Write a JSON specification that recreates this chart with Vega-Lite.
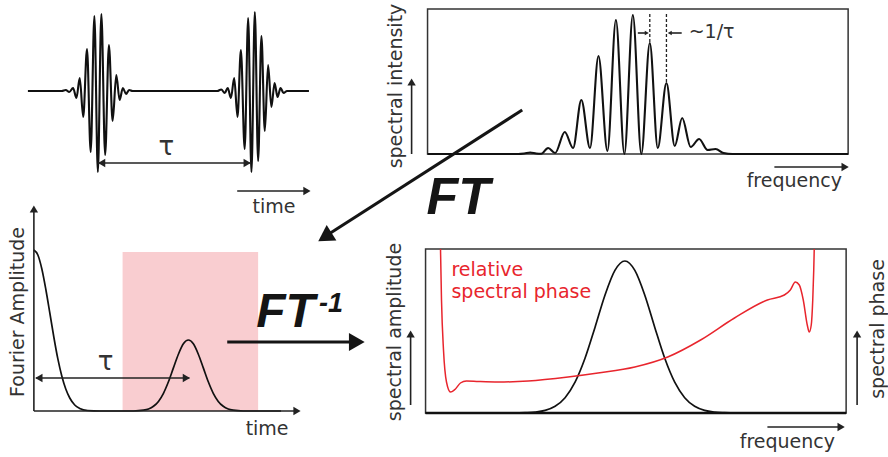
{
  "$schema": "https://vega.github.io/schema/vega-lite/v6.json",
  "width": 888,
  "height": 457,
  "autosize": {"type": "fit", "contains": "padding"},
  "padding": 0,
  "background": "white",
  "config": {"view": {"stroke": null}},
  "datasets": {
    "curves": [
      {"series": "wave", "x": 28, "y": 91}, {"series": "wave", "x": 62, "y": 91}, {"series": "wave", "x": 66, "y": 90}, {"series": "wave", "x": 69.5, "y": 92},
      {"series": "wave", "x": 73.3, "y": 88}, {"series": "wave", "x": 76.7, "y": 98}, {"series": "wave", "x": 80, "y": 78}, {"series": "wave", "x": 83.5, "y": 117},
      {"series": "wave", "x": 87.3, "y": 49}, {"series": "wave", "x": 91, "y": 152}, {"series": "wave", "x": 94.7, "y": 16}, {"series": "wave", "x": 98.2, "y": 172},
      {"series": "wave", "x": 101.7, "y": 14}, {"series": "wave", "x": 105.5, "y": 155}, {"series": "wave", "x": 109.3, "y": 45}, {"series": "wave", "x": 113, "y": 121},
      {"series": "wave", "x": 116.7, "y": 75}, {"series": "wave", "x": 120, "y": 100}, {"series": "wave", "x": 123.3, "y": 88}, {"series": "wave", "x": 126.5, "y": 94},
      {"series": "wave", "x": 129.5, "y": 90}, {"series": "wave", "x": 133, "y": 91},
      {"series": "wave", "x": 218, "y": 91}, {"series": "wave", "x": 222, "y": 89.5}, {"series": "wave", "x": 225.5, "y": 93}, {"series": "wave", "x": 228.5, "y": 88},
      {"series": "wave", "x": 231.7, "y": 98}, {"series": "wave", "x": 235, "y": 78}, {"series": "wave", "x": 238.3, "y": 117}, {"series": "wave", "x": 241.7, "y": 50},
      {"series": "wave", "x": 245.5, "y": 149}, {"series": "wave", "x": 249, "y": 18}, {"series": "wave", "x": 252.3, "y": 172}, {"series": "wave", "x": 255.7, "y": 12},
      {"series": "wave", "x": 259, "y": 161}, {"series": "wave", "x": 262.3, "y": 36}, {"series": "wave", "x": 265.7, "y": 131}, {"series": "wave", "x": 269, "y": 65},
      {"series": "wave", "x": 272.3, "y": 107}, {"series": "wave", "x": 275.5, "y": 83}, {"series": "wave", "x": 278.5, "y": 97}, {"series": "wave", "x": 281.5, "y": 88},
      {"series": "wave", "x": 284.5, "y": 93}, {"series": "wave", "x": 288, "y": 91}, {"series": "wave", "x": 310, "y": 91},

      {"series": "spectrum", "x": 429, "y": 154}, {"series": "spectrum", "x": 520, "y": 154}, {"series": "spectrum", "x": 526, "y": 153.5}, {"series": "spectrum", "x": 532, "y": 152.5},
      {"series": "spectrum", "x": 538, "y": 153.5}, {"series": "spectrum", "x": 543, "y": 153.8}, {"series": "spectrum", "x": 550, "y": 148}, {"series": "spectrum", "x": 557, "y": 153},
      {"series": "spectrum", "x": 566.7, "y": 132}, {"series": "spectrum", "x": 575, "y": 148}, {"series": "spectrum", "x": 583.3, "y": 100}, {"series": "spectrum", "x": 592, "y": 148},
      {"series": "spectrum", "x": 600.5, "y": 56}, {"series": "spectrum", "x": 609.5, "y": 151}, {"series": "spectrum", "x": 618, "y": 20}, {"series": "spectrum", "x": 626.5, "y": 154},
      {"series": "spectrum", "x": 635, "y": 15}, {"series": "spectrum", "x": 643.5, "y": 154}, {"series": "spectrum", "x": 652, "y": 43}, {"series": "spectrum", "x": 660, "y": 148},
      {"series": "spectrum", "x": 668.7, "y": 83}, {"series": "spectrum", "x": 677, "y": 146}, {"series": "spectrum", "x": 684.5, "y": 118}, {"series": "spectrum", "x": 693, "y": 147},
      {"series": "spectrum", "x": 701.5, "y": 139}, {"series": "spectrum", "x": 710, "y": 150}, {"series": "spectrum", "x": 718, "y": 149}, {"series": "spectrum", "x": 726, "y": 153},
      {"series": "spectrum", "x": 735, "y": 154}, {"series": "spectrum", "x": 851, "y": 154},

      {"series": "fourier", "x": 34, "y": 250}, {"series": "fourier", "x": 38, "y": 255}, {"series": "fourier", "x": 42, "y": 269}, {"series": "fourier", "x": 46, "y": 289.5},
      {"series": "fourier", "x": 50, "y": 313}, {"series": "fourier", "x": 54, "y": 337}, {"series": "fourier", "x": 58, "y": 358.7}, {"series": "fourier", "x": 62, "y": 376},
      {"series": "fourier", "x": 66, "y": 389}, {"series": "fourier", "x": 70, "y": 398}, {"series": "fourier", "x": 75, "y": 405}, {"series": "fourier", "x": 80, "y": 408.4},
      {"series": "fourier", "x": 88, "y": 410.5}, {"series": "fourier", "x": 100, "y": 411}, {"series": "fourier", "x": 134, "y": 411}, {"series": "fourier", "x": 144, "y": 410.2},
      {"series": "fourier", "x": 149, "y": 409}, {"series": "fourier", "x": 154, "y": 406.3}, {"series": "fourier", "x": 159, "y": 401.4}, {"series": "fourier", "x": 164, "y": 393.3},
      {"series": "fourier", "x": 169, "y": 381.8}, {"series": "fourier", "x": 174, "y": 367.9}, {"series": "fourier", "x": 179, "y": 354.2}, {"series": "fourier", "x": 184, "y": 343.8},
      {"series": "fourier", "x": 189, "y": 340}, {"series": "fourier", "x": 194, "y": 343.8}, {"series": "fourier", "x": 199, "y": 354.2}, {"series": "fourier", "x": 204, "y": 367.9},
      {"series": "fourier", "x": 209, "y": 381.8}, {"series": "fourier", "x": 214, "y": 393.3}, {"series": "fourier", "x": 219, "y": 401.4}, {"series": "fourier", "x": 224, "y": 406.3},
      {"series": "fourier", "x": 229, "y": 409}, {"series": "fourier", "x": 234, "y": 410.2}, {"series": "fourier", "x": 244, "y": 411}, {"series": "fourier", "x": 282, "y": 411},

      {"series": "amplitude", "x": 427, "y": 413}, {"series": "amplitude", "x": 517, "y": 413}, {"series": "amplitude", "x": 527, "y": 412.7}, {"series": "amplitude", "x": 537, "y": 412.1},
      {"series": "amplitude", "x": 547, "y": 410.4}, {"series": "amplitude", "x": 557, "y": 406.3}, {"series": "amplitude", "x": 567, "y": 397.7}, {"series": "amplitude", "x": 577, "y": 382.2},
      {"series": "amplitude", "x": 587, "y": 358.3}, {"series": "amplitude", "x": 597, "y": 327.4}, {"series": "amplitude", "x": 607, "y": 295.2}, {"series": "amplitude", "x": 617, "y": 270.4},
      {"series": "amplitude", "x": 627, "y": 261}, {"series": "amplitude", "x": 637, "y": 270.4}, {"series": "amplitude", "x": 647, "y": 295.2}, {"series": "amplitude", "x": 657, "y": 327.4},
      {"series": "amplitude", "x": 667, "y": 358.3}, {"series": "amplitude", "x": 677, "y": 382.2}, {"series": "amplitude", "x": 687, "y": 397.7}, {"series": "amplitude", "x": 697, "y": 406.3},
      {"series": "amplitude", "x": 707, "y": 410.4}, {"series": "amplitude", "x": 717, "y": 412.1}, {"series": "amplitude", "x": 727, "y": 412.7}, {"series": "amplitude", "x": 737, "y": 413},
      {"series": "amplitude", "x": 849, "y": 413},

      {"series": "phase", "x": 442, "y": 249}, {"series": "phase", "x": 443, "y": 300}, {"series": "phase", "x": 445, "y": 350}, {"series": "phase", "x": 448, "y": 382},
      {"series": "phase", "x": 452, "y": 392}, {"series": "phase", "x": 457, "y": 389}, {"series": "phase", "x": 462, "y": 383}, {"series": "phase", "x": 468, "y": 381},
      {"series": "phase", "x": 480, "y": 381.5}, {"series": "phase", "x": 500, "y": 382}, {"series": "phase", "x": 530, "y": 381}, {"series": "phase", "x": 570, "y": 377},
      {"series": "phase", "x": 600, "y": 373}, {"series": "phase", "x": 637, "y": 367}, {"series": "phase", "x": 670, "y": 357}, {"series": "phase", "x": 703, "y": 340},
      {"series": "phase", "x": 737, "y": 318}, {"series": "phase", "x": 770, "y": 300}, {"series": "phase", "x": 787, "y": 295}, {"series": "phase", "x": 793, "y": 290},
      {"series": "phase", "x": 798, "y": 282}, {"series": "phase", "x": 802, "y": 285}, {"series": "phase", "x": 806, "y": 300}, {"series": "phase", "x": 810, "y": 325},
      {"series": "phase", "x": 812, "y": 332}, {"series": "phase", "x": 814, "y": 325}, {"series": "phase", "x": 815.5, "y": 300}, {"series": "phase", "x": 816.5, "y": 270},
      {"series": "phase", "x": 817, "y": 249}
    ],
    "boxes": [
      {"kind": "frame", "x": 429, "y": 9, "x2": 851, "y2": 154},
      {"kind": "frame", "x": 427, "y": 249, "x2": 849, "y2": 413},
      {"kind": "window", "x": 123, "y": 252, "x2": 259, "y2": 411}
    ],
    "segments": [
      {"kind": "thin", "x": 98, "y": 163, "x2": 252, "y2": 163},
      {"kind": "thin", "x": 238, "y": 191, "x2": 306, "y2": 191},
      {"kind": "thin", "x": 413, "y": 154, "x2": 413, "y2": 84},
      {"kind": "thin", "x": 777, "y": 167, "x2": 846, "y2": 167},
      {"kind": "thin", "x": 640, "y": 33, "x2": 648, "y2": 33},
      {"kind": "thin", "x": 673, "y": 33, "x2": 684, "y2": 33},
      {"kind": "thin", "x": 34, "y": 411, "x2": 34, "y2": 212},
      {"kind": "thin", "x": 34, "y": 411, "x2": 296, "y2": 411},
      {"kind": "thin", "x": 36, "y": 378, "x2": 190, "y2": 378},
      {"kind": "thin", "x": 412, "y": 405, "x2": 412, "y2": 337},
      {"kind": "thin", "x": 860, "y": 405, "x2": 860, "y2": 337},
      {"kind": "thin", "x": 770, "y": 427, "x2": 842, "y2": 427},
      {"kind": "base", "x": 427, "y": 413, "x2": 849, "y2": 413},
      {"kind": "thick", "x": 524, "y": 110, "x2": 330, "y2": 234},
      {"kind": "thick", "x": 228, "y": 342, "x2": 352, "y2": 342},
      {"kind": "dash", "x": 652, "y": 14, "x2": 652, "y2": 43},
      {"kind": "dash", "x": 668.7, "y": 14, "x2": 668.7, "y2": 83}
    ],
    "heads": [
      {"kind": "small", "dir": "left", "x": 102, "y": 163},
      {"kind": "small", "dir": "right", "x": 248, "y": 163},
      {"kind": "small", "dir": "right", "x": 308, "y": 191},
      {"kind": "small", "dir": "up", "x": 413, "y": 82},
      {"kind": "small", "dir": "right", "x": 848, "y": 167},
      {"kind": "small", "dir": "up", "x": 34, "y": 209},
      {"kind": "small", "dir": "right", "x": 298, "y": 411},
      {"kind": "small", "dir": "left", "x": 39, "y": 378},
      {"kind": "small", "dir": "right", "x": 187, "y": 378},
      {"kind": "small", "dir": "up", "x": 412, "y": 334},
      {"kind": "small", "dir": "up", "x": 860, "y": 334},
      {"kind": "small", "dir": "right", "x": 844, "y": 427},
      {"kind": "tiny", "dir": "right", "x": 649, "y": 33},
      {"kind": "tiny", "dir": "left", "x": 672, "y": 33},
      {"kind": "big", "dir": "right", "x": 358, "y": 342},
      {"kind": "diag", "dir": "up", "x": 326, "y": 237}
    ],
    "labels": [
      {"style": "plain", "label": "time", "x": 275, "y": 213},
      {"style": "plain", "label": "frequency", "x": 797, "y": 187},
      {"style": "plain", "label": "time", "x": 268, "y": 435},
      {"style": "plain", "label": "frequency", "x": 790, "y": 448},
      {"style": "plainleft", "label": "~1/τ", "x": 691, "y": 38},
      {"style": "tau", "label": "τ", "x": 167, "y": 155},
      {"style": "tau", "label": "τ", "x": 106, "y": 370},
      {"style": "rot", "label": "spectral intensity", "x": 397, "y": 86},
      {"style": "rot", "label": "Fourier Amplitude", "x": 18, "y": 312},
      {"style": "rot", "label": "spectral amplitude", "x": 396, "y": 332},
      {"style": "rot", "label": "spectral phase", "x": 881, "y": 329},
      {"style": "red", "label": "relative", "x": 453, "y": 276},
      {"style": "red", "label": "spectral phase", "x": 453, "y": 298},
      {"style": "ft", "label": "FT", "x": 428, "y": 214},
      {"style": "ft2", "label": "FT", "x": 257, "y": 327},
      {"style": "sup", "label": "-1", "x": 320, "y": 312}
    ]
  },
  "layer": [
    {
      "data": {"name": "boxes"},
      "transform": [{"filter": "datum.kind == 'window'"}],
      "mark": {"type": "rect", "fill": "#f9cdd0", "stroke": null},
      "encoding": {
        "x": {"field": "x", "type": "quantitative", "scale": {"domain": [0, 888], "nice": false, "zero": false}, "axis": null},
        "x2": {"field": "x2"},
        "y": {"field": "y", "type": "quantitative", "scale": {"domain": [0, 457], "nice": false, "zero": false, "reverse": true}, "axis": null},
        "y2": {"field": "y2"}
      }
    },
    {
      "data": {"name": "boxes"},
      "transform": [{"filter": "datum.kind == 'frame'"}],
      "mark": {"type": "rect", "fill": null, "fillOpacity": 0, "stroke": "#333333", "strokeWidth": 1.5},
      "encoding": {
        "x": {"field": "x", "type": "quantitative"},
        "x2": {"field": "x2"},
        "y": {"field": "y", "type": "quantitative"},
        "y2": {"field": "y2"}
      }
    },
    {
      "data": {"name": "curves"},
      "transform": [{"filter": "datum.series == 'wave' || datum.series == 'spectrum'"}],
      "mark": {"type": "line", "color": "#111111", "strokeWidth": 2.1, "interpolate": "monotone"},
      "encoding": {
        "x": {"field": "x", "type": "quantitative"},
        "y": {"field": "y", "type": "quantitative"},
        "detail": {"field": "series", "type": "nominal"}
      }
    },
    {
      "data": {"name": "curves"},
      "transform": [{"filter": "datum.series == 'fourier' || datum.series == 'amplitude'"}],
      "mark": {"type": "line", "color": "#111111", "strokeWidth": 1.7, "interpolate": "monotone"},
      "encoding": {
        "x": {"field": "x", "type": "quantitative"},
        "y": {"field": "y", "type": "quantitative"},
        "detail": {"field": "series", "type": "nominal"}
      }
    },
    {
      "data": {"name": "curves"},
      "transform": [{"filter": "datum.series == 'phase'"}],
      "mark": {"type": "line", "color": "#e8252d", "strokeWidth": 1.5, "interpolate": "monotone"},
      "encoding": {
        "x": {"field": "x", "type": "quantitative"},
        "y": {"field": "y", "type": "quantitative"}
      }
    },
    {
      "data": {"name": "segments"},
      "transform": [{"filter": "datum.kind == 'thin'"}],
      "mark": {"type": "rule", "color": "#222222", "strokeWidth": 1.6},
      "encoding": {
        "x": {"field": "x", "type": "quantitative"},
        "y": {"field": "y", "type": "quantitative"},
        "x2": {"field": "x2"},
        "y2": {"field": "y2"}
      }
    },
    {
      "data": {"name": "segments"},
      "transform": [{"filter": "datum.kind == 'base'"}],
      "mark": {"type": "rule", "color": "#111111", "strokeWidth": 2.6},
      "encoding": {
        "x": {"field": "x", "type": "quantitative"},
        "y": {"field": "y", "type": "quantitative"},
        "x2": {"field": "x2"},
        "y2": {"field": "y2"}
      }
    },
    {
      "data": {"name": "segments"},
      "transform": [{"filter": "datum.kind == 'thick'"}],
      "mark": {"type": "rule", "color": "#151515", "strokeWidth": 3},
      "encoding": {
        "x": {"field": "x", "type": "quantitative"},
        "y": {"field": "y", "type": "quantitative"},
        "x2": {"field": "x2"},
        "y2": {"field": "y2"}
      }
    },
    {
      "data": {"name": "segments"},
      "transform": [{"filter": "datum.kind == 'dash'"}],
      "mark": {"type": "rule", "color": "#222222", "strokeWidth": 1.3, "strokeDash": [3, 2]},
      "encoding": {
        "x": {"field": "x", "type": "quantitative"},
        "y": {"field": "y", "type": "quantitative"},
        "x2": {"field": "x2"},
        "y2": {"field": "y2"}
      }
    },
    {
      "data": {"name": "heads"},
      "transform": [{"filter": "datum.kind == 'small'"}],
      "mark": {"type": "point", "filled": true, "color": "#222222", "size": 70, "opacity": 1, "strokeWidth": 0},
      "encoding": {
        "x": {"field": "x", "type": "quantitative"},
        "y": {"field": "y", "type": "quantitative"},
        "shape": {"field": "dir", "type": "nominal", "scale": {"domain": ["right", "left", "up"], "range": ["triangle-right", "triangle-left", "triangle-up"]}, "legend": null}
      }
    },
    {
      "data": {"name": "heads"},
      "transform": [{"filter": "datum.kind == 'tiny'"}],
      "mark": {"type": "point", "filled": true, "color": "#222222", "size": 22, "opacity": 1, "strokeWidth": 0},
      "encoding": {
        "x": {"field": "x", "type": "quantitative"},
        "y": {"field": "y", "type": "quantitative"},
        "shape": {"field": "dir", "type": "nominal", "legend": null}
      }
    },
    {
      "data": {"name": "heads"},
      "transform": [{"filter": "datum.kind == 'big'"}],
      "mark": {"type": "point", "filled": true, "color": "#151515", "size": 330, "opacity": 1, "strokeWidth": 0, "shape": "triangle-right"},
      "encoding": {
        "x": {"field": "x", "type": "quantitative"},
        "y": {"field": "y", "type": "quantitative"}
      }
    },
    {
      "data": {"name": "heads"},
      "transform": [{"filter": "datum.kind == 'diag'"}],
      "mark": {"type": "point", "filled": true, "color": "#151515", "size": 330, "opacity": 1, "strokeWidth": 0, "shape": "triangle-up", "angle": 237.5},
      "encoding": {
        "x": {"field": "x", "type": "quantitative"},
        "y": {"field": "y", "type": "quantitative"}
      }
    },
    {
      "data": {"name": "labels"},
      "transform": [{"filter": "datum.style == 'plain'"}],
      "mark": {"type": "text", "font": "DejaVu Sans", "fontSize": 19, "color": "#333333", "align": "center", "baseline": "alphabetic"},
      "encoding": {
        "x": {"field": "x", "type": "quantitative"},
        "y": {"field": "y", "type": "quantitative"},
        "text": {"field": "label"}
      }
    },
    {
      "data": {"name": "labels"},
      "transform": [{"filter": "datum.style == 'plainleft'"}],
      "mark": {"type": "text", "font": "DejaVu Sans", "fontSize": 19, "color": "#333333", "align": "left", "baseline": "alphabetic"},
      "encoding": {
        "x": {"field": "x", "type": "quantitative"},
        "y": {"field": "y", "type": "quantitative"},
        "text": {"field": "label"}
      }
    },
    {
      "data": {"name": "labels"},
      "transform": [{"filter": "datum.style == 'tau'"}],
      "mark": {"type": "text", "font": "DejaVu Sans", "fontSize": 26, "color": "#333333", "align": "center", "baseline": "alphabetic"},
      "encoding": {
        "x": {"field": "x", "type": "quantitative"},
        "y": {"field": "y", "type": "quantitative"},
        "text": {"field": "label"}
      }
    },
    {
      "data": {"name": "labels"},
      "transform": [{"filter": "datum.style == 'rot'"}],
      "mark": {"type": "text", "font": "DejaVu Sans", "fontSize": 19, "color": "#333333", "align": "center", "baseline": "middle", "angle": 270},
      "encoding": {
        "x": {"field": "x", "type": "quantitative"},
        "y": {"field": "y", "type": "quantitative"},
        "text": {"field": "label"}
      }
    },
    {
      "data": {"name": "labels"},
      "transform": [{"filter": "datum.style == 'red'"}],
      "mark": {"type": "text", "font": "DejaVu Sans", "fontSize": 19, "color": "#e8252d", "align": "left", "baseline": "alphabetic"},
      "encoding": {
        "x": {"field": "x", "type": "quantitative"},
        "y": {"field": "y", "type": "quantitative"},
        "text": {"field": "label"}
      }
    },
    {
      "data": {"name": "labels"},
      "transform": [{"filter": "datum.style == 'ft'"}],
      "mark": {"type": "text", "font": "Liberation Sans", "fontSize": 52, "fontWeight": "bold", "fontStyle": "italic", "color": "#151515", "align": "left", "baseline": "alphabetic"},
      "encoding": {
        "x": {"field": "x", "type": "quantitative"},
        "y": {"field": "y", "type": "quantitative"},
        "text": {"field": "label"}
      }
    },
    {
      "data": {"name": "labels"},
      "transform": [{"filter": "datum.style == 'ft2'"}],
      "mark": {"type": "text", "font": "Liberation Sans", "fontSize": 48, "fontWeight": "bold", "fontStyle": "italic", "color": "#151515", "align": "left", "baseline": "alphabetic"},
      "encoding": {
        "x": {"field": "x", "type": "quantitative"},
        "y": {"field": "y", "type": "quantitative"},
        "text": {"field": "label"}
      }
    },
    {
      "data": {"name": "labels"},
      "transform": [{"filter": "datum.style == 'sup'"}],
      "mark": {"type": "text", "font": "Liberation Sans", "fontSize": 27, "fontWeight": "bold", "fontStyle": "italic", "color": "#151515", "align": "left", "baseline": "alphabetic"},
      "encoding": {
        "x": {"field": "x", "type": "quantitative"},
        "y": {"field": "y", "type": "quantitative"},
        "text": {"field": "label"}
      }
    }
  ]
}
